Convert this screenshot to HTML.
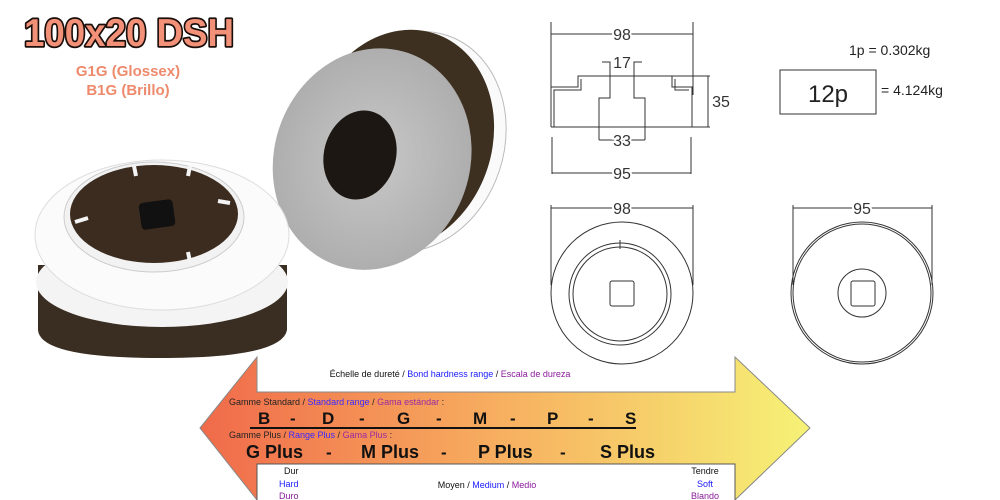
<!DOCTYPE html>
<html><head><meta charset="utf-8"><style>
html,body{margin:0;padding:0;background:#fff;width:1000px;height:500px;overflow:hidden}
svg{display:block}
text{font-family:"Liberation Sans",sans-serif}
</style></head><body>
<svg width="1000" height="500" viewBox="0 0 1000 500" xmlns="http://www.w3.org/2000/svg">
<defs>
<linearGradient id="ag" x1="0" x2="1" y1="0" y2="0">
<stop offset="0" stop-color="#f06a4a"/><stop offset="0.5" stop-color="#f7b060"/><stop offset="1" stop-color="#f6f276"/>
</linearGradient>
<radialGradient id="gr" cx="0.5" cy="0.5" r="0.6"><stop offset="0" stop-color="#c8c8c8"/><stop offset="1" stop-color="#a9a9a9"/></radialGradient>
</defs>

<!-- Title -->
<text x="129" y="46" text-anchor="middle" font-size="39" font-weight="bold" fill="#f29078" stroke="#1a0e0a" stroke-width="3.5" stroke-linejoin="round" paint-order="stroke" textLength="210" lengthAdjust="spacingAndGlyphs">100x20 DSH</text>
<text x="128" y="76" text-anchor="middle" font-size="15" font-weight="bold" fill="#ee8a6c">G1G (Glossex)</text>
<text x="128" y="95" text-anchor="middle" font-size="15" font-weight="bold" fill="#ee8a6c">B1G (Brillo)</text>

<!-- Right puck -->
<g transform="rotate(18 400 140)">
<ellipse cx="412" cy="138" rx="92" ry="112" fill="#fafafa" stroke="#bbb"/>
<ellipse cx="400" cy="140" rx="92" ry="112" fill="#3d3021"/>
</g>
<g transform="rotate(18 375 160)">
<ellipse cx="372" cy="160" rx="98" ry="112" fill="url(#gr)"/>
</g>
<ellipse cx="360" cy="155" rx="36" ry="45" transform="rotate(15 360 155)" fill="#1c1712"/>

<!-- Left puck -->
<path d="M38 265 L38 330 Q40 358 160 358 Q282 358 287 330 L287 265 Z" fill="#3a2e22"/>
<ellipse cx="162" cy="282" rx="126" ry="45" fill="#f4f4f4"/>
<ellipse cx="162" cy="235" rx="127" ry="75" fill="#fbfbfb" stroke="#ddd"/>
<ellipse cx="154" cy="217" rx="90" ry="55" fill="#f2f2f2" stroke="#ccc"/>
<ellipse cx="154" cy="214" rx="84" ry="49" fill="#3b2c1f"/>
<rect x="140" y="201" width="34" height="27" rx="4" fill="#111" transform="rotate(-8 157 214)"/>
<g stroke="#f4f4f4" stroke-width="4">
<line x1="134" y1="166" x2="136" y2="176"/><line x1="190" y1="166" x2="188" y2="176"/>
<line x1="75" y1="222" x2="88" y2="218"/><line x1="230" y1="203" x2="218" y2="201"/>
<line x1="190" y1="262" x2="188" y2="252"/>
</g>

<!-- Drawing 1: profile -->
<g stroke="#333" stroke-width="1" fill="none">
<line x1="551" y1="34" x2="693" y2="34"/>
<line x1="551" y1="22" x2="551" y2="95"/><line x1="693" y1="22" x2="693" y2="95"/>
<polyline points="551,127 551,87 578,87 578,76 710,76"/>
<polyline points="554,127 554,90 581,90 581,79"/>
<polyline points="672,76 672,87 692,87 692,127"/>
<polyline points="675,79 675,90 689,90"/>
<line x1="551" y1="127" x2="710" y2="127"/>
<line x1="708" y1="76" x2="708" y2="127"/>
<polyline points="602,62 610,62 610,98 599,98 599,140"/>
<polyline points="642,62 634,62 634,98 645,98 645,140"/>
<line x1="599" y1="140" x2="645" y2="140"/>
<line x1="552" y1="137" x2="552" y2="174"/><line x1="691" y1="137" x2="691" y2="174"/>
<line x1="552" y1="173" x2="691" y2="173"/>
</g>
<g font-family="DejaVu Sans,Liberation Sans,sans-serif" font-size="16" fill="#333" text-anchor="middle">
<text x="622" y="40" stroke="#fff" stroke-width="4" paint-order="stroke">98</text>
<text x="622" y="68" stroke="#fff" stroke-width="3" paint-order="stroke">17</text>
<text x="721" y="107">35</text>
<text x="622" y="146" stroke="#fff" stroke-width="4" paint-order="stroke">33</text>
<text x="622" y="179" stroke="#fff" stroke-width="4" paint-order="stroke">95</text>
</g>

<!-- Drawing 2: left circle -->
<g stroke="#333" stroke-width="1" fill="none">
<line x1="551" y1="208" x2="693" y2="208"/>
<line x1="551" y1="205" x2="551" y2="285"/><line x1="693" y1="205" x2="693" y2="285"/>
<circle cx="622" cy="293" r="71"/>
<circle cx="620" cy="294" r="51"/>
<circle cx="620" cy="294" r="47"/>
<line x1="620" y1="240" x2="620" y2="249"/>
<rect x="610" y="281" width="24" height="25" rx="2"/>
</g>
<text x="622" y="214" text-anchor="middle" font-family="DejaVu Sans,sans-serif" font-size="16" fill="#333" stroke="#fff" stroke-width="4" paint-order="stroke">98</text>

<!-- Drawing 3: right circle -->
<g stroke="#333" stroke-width="1" fill="none">
<line x1="793" y1="208" x2="932" y2="208"/>
<line x1="793" y1="205" x2="793" y2="285"/><line x1="932" y1="205" x2="932" y2="285"/>
<circle cx="862" cy="293" r="71"/><circle cx="862" cy="293" r="69"/>
<circle cx="862" cy="293" r="24"/>
<rect x="851" y="281" width="24" height="25" rx="2"/>
</g>
<text x="862" y="214" text-anchor="middle" font-family="DejaVu Sans,sans-serif" font-size="16" fill="#333" stroke="#fff" stroke-width="4" paint-order="stroke">95</text>

<!-- Weights -->
<g font-family="DejaVu Sans,sans-serif" fill="#222">
<text x="849" y="55" font-size="14">1p  = 0.302kg</text>
<rect x="780" y="70" width="96" height="44" fill="none" stroke="#333"/>
<text x="828" y="102" font-size="24" text-anchor="middle">12p</text>
<text x="881" y="95" font-size="14">=  4.124kg</text>
</g>

<!-- Arrow -->
<polygon points="200,428 257,357 257,392 735,392 735,357 810,428 735,500 735,464 257,464 257,500" fill="url(#ag)" stroke="#888" stroke-width="1"/>
<rect x="257" y="464" width="478" height="40" fill="#fff" stroke="#555"/>
<g font-size="9">
<text x="450" y="377" text-anchor="middle"><tspan fill="#111">Échelle de dureté / </tspan><tspan fill="#1a1aff">Bond hardness range</tspan><tspan fill="#111"> / </tspan><tspan fill="#8a1a9a">Escala de dureza</tspan></text>
<text x="229" y="405"><tspan fill="#222">Gamme Standard / </tspan><tspan fill="#3a2aff">Standard range</tspan><tspan fill="#222"> / </tspan><tspan fill="#9a2aa0">Gama estándar</tspan><tspan fill="#222">  :</tspan></text>
<text x="229" y="438"><tspan fill="#222">Gamme Plus / </tspan><tspan fill="#3a2aff">Range Plus</tspan><tspan fill="#222"> / </tspan><tspan fill="#9a2aa0">Gama Plus</tspan><tspan fill="#222"> :</tspan></text>
<text x="284" y="474" fill="#111">Dur</text>
<text x="279" y="487" fill="#1a1aff">Hard</text>
<text x="279" y="499" fill="#8a1a9a">Duro</text>
<text x="487" y="488" text-anchor="middle"><tspan fill="#111">Moyen / </tspan><tspan fill="#1a1aff">Medium</tspan><tspan fill="#111"> / </tspan><tspan fill="#8a1a9a">Medio</tspan></text>
<text x="705" y="474" text-anchor="middle" fill="#111">Tendre</text>
<text x="705" y="487" text-anchor="middle" fill="#1a1aff">Soft</text>
<text x="705" y="499" text-anchor="middle" fill="#8a1a9a">Blando</text>
</g>
<g font-size="17" font-weight="bold" fill="#111">
<text x="258" y="424">B</text><text x="290" y="424">-</text>
<text x="322" y="424">D</text><text x="359" y="424">-</text>
<text x="397" y="424">G</text><text x="436" y="424">-</text>
<text x="473" y="424">M</text><text x="510" y="424">-</text>
<text x="547" y="424">P</text><text x="588" y="424">-</text>
<text x="625" y="424">S</text>
<line x1="250" y1="428" x2="636" y2="428" stroke="#111" stroke-width="2"/>
<text x="246" y="458" font-size="18">G Plus</text><text x="326" y="458">-</text>
<text x="361" y="458" font-size="18">M Plus</text><text x="441" y="458">-</text>
<text x="478" y="458" font-size="18">P Plus</text><text x="560" y="458">-</text>
<text x="600" y="458" font-size="18">S Plus</text>
</g>
</svg>
</body></html>
